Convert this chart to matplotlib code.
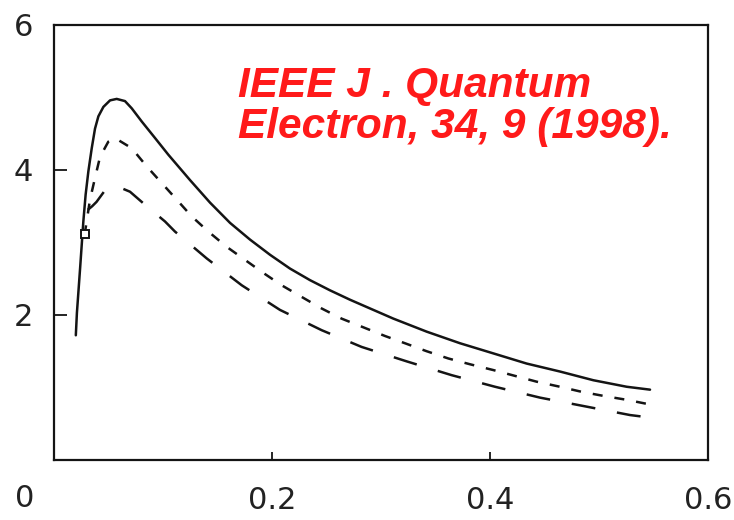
import matplotlib
matplotlib.use("Agg")
import numpy as np
import matplotlib.pyplot as plt

# curve samples (x, y)
solid_x = [0.020, 0.021, 0.024, 0.0269, 0.029, 0.0315, 0.0346, 0.0376, 0.0407, 0.0453,
           0.0514, 0.0575, 0.0651, 0.0713, 0.0804, 0.0927, 0.1049, 0.1248, 0.1431, 0.1615,
           0.1798, 0.1982, 0.2165, 0.2349, 0.2532, 0.2716, 0.2899, 0.3113, 0.3419, 0.3725,
           0.4031, 0.4336, 0.4642, 0.4948, 0.5254, 0.5468]
solid_y = [1.72, 2.03, 2.66, 3.29, 3.66, 3.98, 4.30, 4.57, 4.74, 4.87,
           4.96, 4.98, 4.95, 4.85, 4.67, 4.44, 4.21, 3.86, 3.55, 3.27,
           3.04, 2.83, 2.64, 2.48, 2.34, 2.21, 2.09, 1.95, 1.77, 1.61,
           1.47, 1.33, 1.22, 1.10, 1.01, 0.97]

short_x = [0.028, 0.033, 0.0376, 0.0422, 0.0498, 0.056, 0.0713, 0.085, 0.0988, 0.1126,
           0.1263, 0.1416, 0.1584, 0.1752, 0.192, 0.2088, 0.2271, 0.2455, 0.2638, 0.2821,
           0.3037, 0.322, 0.3419, 0.3618, 0.3817, 0.4031, 0.4229, 0.4428, 0.4642, 0.4841,
           0.5055, 0.5254, 0.5453]
short_y = [3.10, 3.59, 3.89, 4.18, 4.39, 4.44, 4.30, 4.05, 3.82, 3.59,
           3.36, 3.15, 2.94, 2.76, 2.58, 2.41, 2.25, 2.09, 1.95, 1.84,
           1.71, 1.61, 1.50, 1.40, 1.32, 1.24, 1.16, 1.08, 1.01, 0.94,
           0.88, 0.83, 0.77]

long_x = [0.031, 0.035, 0.039, 0.0468, 0.057, 0.0697, 0.0835, 0.1018, 0.111, 0.1401,
          0.1722, 0.2073, 0.2456, 0.2821, 0.3236, 0.3648, 0.4046, 0.4459, 0.4872, 0.5284,
          0.539]
long_y = [3.45, 3.50, 3.56, 3.72, 3.78, 3.70, 3.52, 3.29, 3.15, 2.78,
          2.41, 2.07, 1.79, 1.56, 1.36, 1.17, 1.01, 0.86, 0.74, 0.62,
          0.60]

box_x = [0.028]
box_y = [3.12]

x_ticks = [0.2, 0.4, 0.6]
x_labels = ["0.2", "0.4", "0.6"]
y_ticks = [2, 4, 6]
y_labels = ["2", "4", "6"]

fig = plt.figure(figsize=(7.34, 5.20), dpi=100)
ax = fig.add_axes([0.0736, 0.1154, 0.8910, 0.8366])

ink = "#141414"
lw = 1.8
ax.plot(solid_x, solid_y, color=ink, lw=lw, solid_capstyle="round",
        solid_joinstyle="round")
ax.plot(short_x, short_y, color=ink, lw=lw, dashes=(4.0, 4.8))
ax.plot(long_x, long_y, color=ink, lw=lw, dashes=(9.6, 8.8))
ax.plot(box_x, box_y, marker="s", ms=6, mfc="white", mec=ink, mew=1.4, ls="none")

ax.set_xlim(0, 0.6)
ax.set_ylim(0, 6)
ax.set_xticks(x_ticks)
ax.set_xticklabels(x_labels)
ax.set_yticks(y_ticks)
ax.set_yticklabels(y_labels)
ax.tick_params(axis="x", direction="in", length=6, width=1.3, pad=19,
               labelsize=22, labelcolor="#222222", color=ink)
ax.tick_params(axis="y", direction="in", length=9, width=1.3, pad=15,
               labelsize=22, labelcolor="#222222", color=ink)
for sp in ax.spines.values():
    sp.set_linewidth(1.6)
    sp.set_color(ink)

# shared origin label sits below-left of the corner
ax.text(-0.045, -0.088, "0", transform=ax.transAxes, fontsize=22,
        color="#222222", ha="center", va="center")

ax.text(0.281, 5.01, "IEEE J . Quantum", color="#ff1a1a", fontsize=30.5,
        fontweight="bold", fontstyle="italic", family="Liberation Sans",
        transform=ax.get_yaxis_transform(), va="baseline")
ax.text(0.281, 4.44, "Electron, 34, 9 (1998).", color="#ff1a1a", fontsize=30.5,
        fontweight="bold", fontstyle="italic", family="Liberation Sans",
        transform=ax.get_yaxis_transform(), va="baseline")

fig.savefig("out.png", dpi=100)
